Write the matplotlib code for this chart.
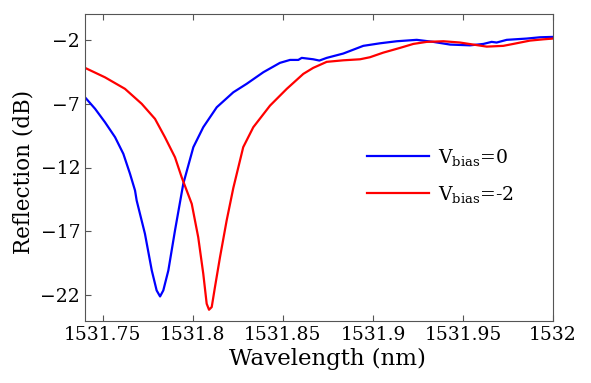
import numpy as np
import matplotlib
matplotlib.use("Agg")
import matplotlib.pyplot as plt

# Данные (длина волны, нм / отражение, дБ)
wl_0 = [1531.7400, 1531.7456, 1531.7511, 1531.7567, 1531.7613, 1531.7650,
        1531.7678, 1531.7687, 1531.7733, 1531.7771, 1531.7798, 1531.7817,
        1531.7835, 1531.7863, 1531.7900, 1531.7946, 1531.8002,
        1531.8057, 1531.8132, 1531.8224, 1531.8298, 1531.8391, 1531.8483,
        1531.8539, 1531.8585, 1531.8604, 1531.8668, 1531.8702, 1531.8743,
        1531.8835, 1531.8946, 1531.9039, 1531.9132, 1531.9243, 1531.9335,
        1531.9428, 1531.9539, 1531.9613, 1531.9659, 1531.9687, 1531.9743,
        1531.9854, 1531.9928, 1532.0000]
refl_0 = [-6.51, -7.41, -8.46, -9.63, -10.93, -12.49,
          -13.80, -14.58, -17.18, -20.05, -21.61, -22.08,
          -21.61, -20.05, -16.92, -13.27, -10.41,
          -8.85, -7.29, -6.12, -5.46, -4.55, -3.82,
          -3.59, -3.59, -3.43, -3.54, -3.64, -3.43,
          -3.09, -2.49, -2.29, -2.13, -2.02, -2.18,
          -2.39, -2.45, -2.34, -2.18, -2.23, -2.02,
          -1.92, -1.82, -1.79]

wl_2 = [1531.7400, 1531.7511, 1531.7622, 1531.7715, 1531.7789, 1531.7844,
        1531.7900, 1531.7937, 1531.7965, 1531.7993, 1531.8029, 1531.8057,
        1531.8076, 1531.8089, 1531.8104, 1531.8122, 1531.8150, 1531.8187,
        1531.8224, 1531.8279, 1531.8335, 1531.8428, 1531.8521,
        1531.8613, 1531.8668, 1531.8743, 1531.8835, 1531.8928, 1531.8983,
        1531.9057, 1531.9150, 1531.9224, 1531.9298, 1531.9391, 1531.9483,
        1531.9557, 1531.9632, 1531.9724, 1531.9779, 1531.9872, 1531.9946,
        1532.0000]
refl_2 = [-4.21, -4.95, -5.85, -7.02, -8.20, -9.63,
          -11.20, -12.76, -13.80, -14.84, -17.45, -20.30,
          -22.65, -23.12, -22.91, -21.35, -19.01, -16.14,
          -13.60, -10.41, -8.85, -7.16, -5.85,
          -4.68, -4.21, -3.74, -3.62, -3.54, -3.38,
          -3.02, -2.65, -2.34, -2.18, -2.13, -2.23,
          -2.39, -2.55, -2.49, -2.34, -2.08, -1.98,
          -1.92]

labels = ["V$_{\\mathrm{bias}}$=0", "V$_{\\mathrm{bias}}$=-2"]
xticks = [1531.75, 1531.8, 1531.85, 1531.9, 1531.95, 1532]
xtick_labels = ["1531.75", "1531.8", "1531.85", "1531.9", "1531.95", "1532"]
yticks = [-22, -17, -12, -7, -2]

plt.rcParams['font.family'] = ['DejaVu Serif']
plt.rcParams['mathtext.fontset'] = 'dejavuserif'

fig = plt.figure(figsize=(5.91, 3.83), dpi=100)
ax = fig.add_axes([85 / 591, 1 - 321 / 383, 468 / 591, 307 / 383])

ax.plot(wl_0, refl_0, color='#0000ff', lw=1.6, label=labels[0])
ax.plot(wl_2, refl_2, color='#ff0000', lw=1.6, label=labels[1])

ax.set_xlim(1531.74, 1532.0)
ax.set_ylim(-24, 0)
ax.set_xticks(xticks)
ax.set_xticklabels(xtick_labels)
ax.set_yticks(yticks)
ax.tick_params(direction='in', top=True, right=False, labelsize=13.5,
               color='#555555', length=4)
for s in ax.spines.values():
    s.set_color('#555555')

ax.set_xlabel("Wavelength (nm)", fontsize=16.5, labelpad=3)
ax.set_ylabel("Reflection (dB)", fontsize=15.5, labelpad=4)
ax.xaxis.label.set_x(0.517)
ax.yaxis.label.set_y(0.484)

ax.legend(loc='upper left', bbox_to_anchor=(367 / 591, 1 - 147 / 383),
          bbox_transform=fig.transFigure, frameon=False, fontsize=13.5,
          handlelength=3.3, handletextpad=0.5, labelspacing=0.85,
          borderpad=0, borderaxespad=0)

fig.savefig("out.png", dpi=100)
